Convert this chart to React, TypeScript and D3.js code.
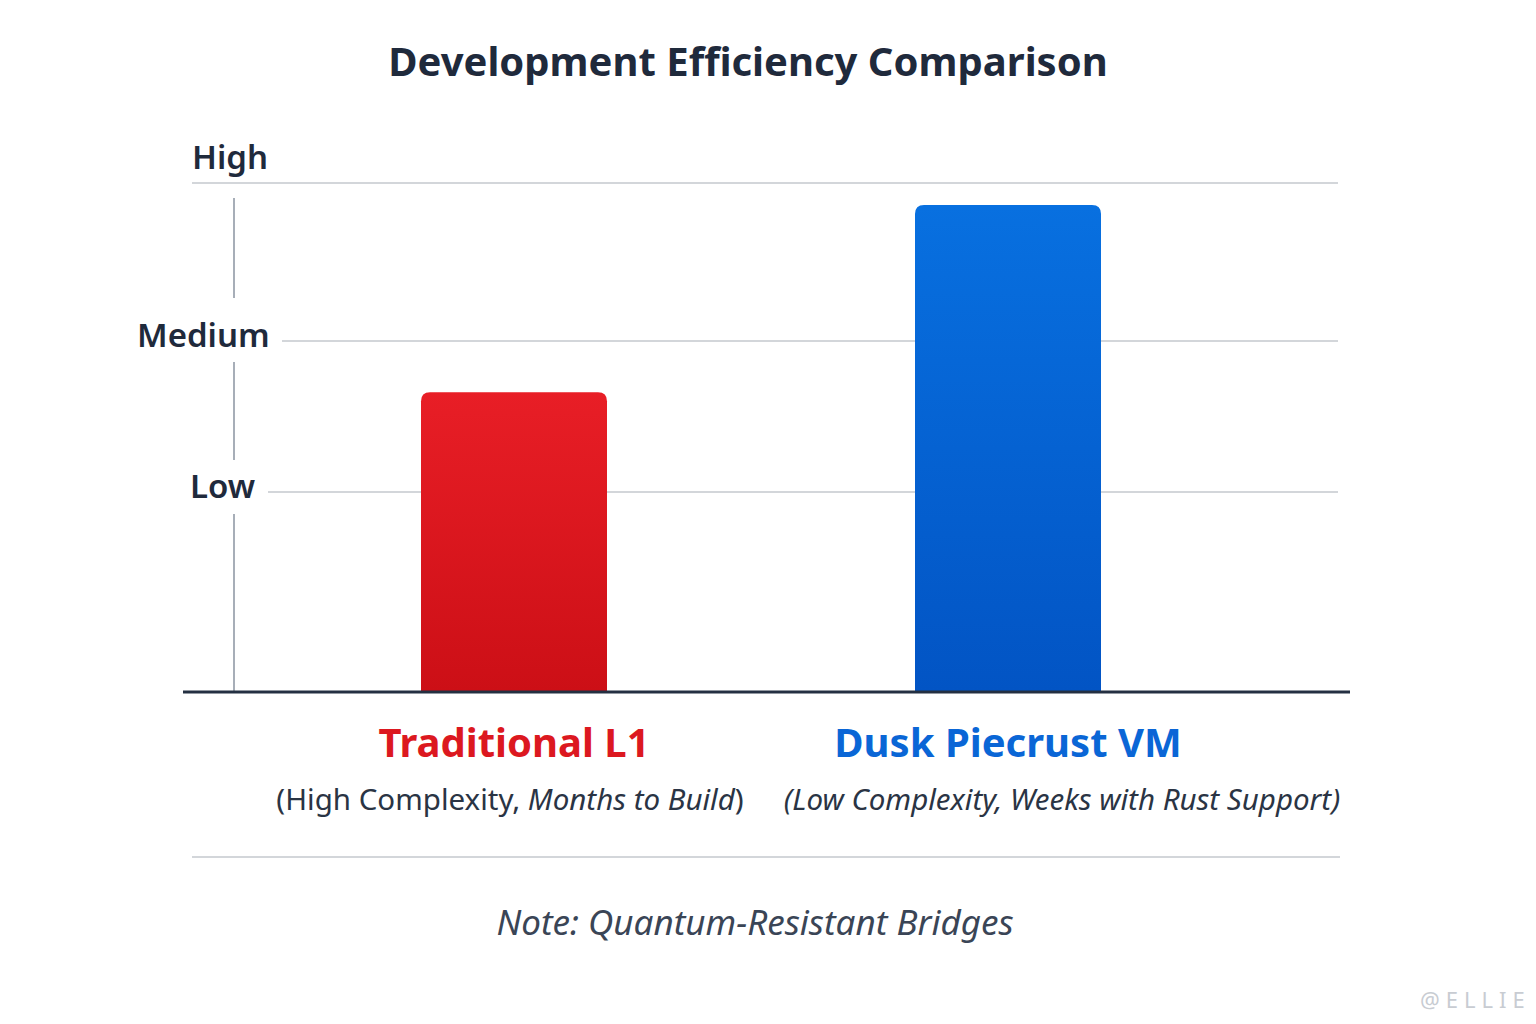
import React from 'react';
import * as d3 from 'd3';

// levels on the y axis
const levelLabels = ['Low', 'Medium', 'High'];
const levelValues = [1, 2, 3];

// bars
const categories = ['Traditional L1', 'Dusk Piecrust VM'];
const scores = [1.66, 2.86];
const subtitles = ['(High Complexity, Months to Build)', '(Low Complexity, Weeks with Rust Support)'];

const W = 1536;
const H = 1024;
const font = '"Noto Sans", "Open Sans", sans-serif';
const ink = '#1f2a3c';

const App: React.FC = () => {
  // scale is not even between levels in the picture, so use a polylinear scale
  const y = d3.scaleLinear().domain([0, 1, 2, 3]).range([692, 492, 341, 183]);
  const x = d3.scalePoint<string>().domain(categories).range([514, 1008]);
  const barW = 186;
  const colors = [
    ['#e81e26', '#cc0f16'],
    ['#0870e0', '#0254c4'],
  ];
  const labelColors = ['#dc1820', '#0a66d6'];

  const barPath = (cx: number, v: number) => {
    const x0 = cx - barW / 2, x1 = cx + barW / 2, top = y(v), bot = y(0), r = 9;
    const p = d3.path();
    p.moveTo(x0, bot);
    p.lineTo(x0, top + r);
    p.quadraticCurveTo(x0, top, x0 + r, top);
    p.lineTo(x1 - r, top);
    p.quadraticCurveTo(x1, top, x1, top + r);
    p.lineTo(x1, bot);
    p.closePath();
    return p.toString();
  };

  const gridStart = [268, 282, 192];
  const labelX = [190, 137, 192];

  return (
    <svg width={W} height={H} style={{ position: 'absolute', left: 0, top: 0, background: '#fff' }} fontFamily={font}>
      <defs>
        {colors.map((c, i) => (
          <linearGradient key={i} id={`g${i}`} x1="0" y1="0" x2="0" y2="1">
            <stop offset="0" stopColor={c[0]} />
            <stop offset="1" stopColor={c[1]} />
          </linearGradient>
        ))}
      </defs>
      <text x={748} y={76} textAnchor="middle" fontSize={40} fontWeight={700} fill={ink}>
        Development Efficiency Comparison
      </text>

      {/* vertical axis with gaps around labels */}
      <line x1={234} x2={234} y1={198} y2={298} stroke="#8a93a0" strokeWidth={1.5} />
      <line x1={234} x2={234} y1={362} y2={460} stroke="#8a93a0" strokeWidth={1.5} />
      <line x1={234} x2={234} y1={514} y2={692} stroke="#8a93a0" strokeWidth={1.5} />

      {levelValues.map((v, i) => (
        <g key={v}>
          <line x1={gridStart[i]} x2={1338} y1={y(v)} y2={y(v)} stroke="#c4c8ce" strokeWidth={1.5} />
          <text
            x={labelX[i]}
            y={i === 2 ? y(v) - 14 : y(v) + 6}
            fontSize={33}
            fontWeight={600}
            fill={ink}
          >
            {levelLabels[i]}
          </text>
        </g>
      ))}

      {categories.map((c, i) => (
        <path key={c} d={barPath(x(c)!, scores[i])} fill={`url(#g${i})`} />
      ))}
      <line x1={183} x2={1350} y1={y(0)} y2={y(0)} stroke="#243042" strokeWidth={3} />

      <text x={x(categories[0])!} y={757} textAnchor="middle" fontSize={40} fontWeight={700} fill={labelColors[0]}>
        {categories[0]}
      </text>
      <text x={x(categories[1])!} y={757} textAnchor="middle" fontSize={40} fontWeight={700} fill={labelColors[1]}>
        {categories[1]}
      </text>
      <text x={510} y={810} textAnchor="middle" fontSize={29.5} fill="#2a3444">
        (High Complexity, <tspan fontStyle="italic">Months to Build</tspan>)
      </text>
      <text x={1062} y={810} textAnchor="middle" fontSize={29.5} fontStyle="italic" fill="#2a3444">
        {subtitles[1]}
      </text>

      <line x1={192} x2={1340} y1={857} y2={857} stroke="#c4c8ce" strokeWidth={1.5} />
      <text x={755} y={935} textAnchor="middle" fontSize={35} fontStyle="italic" fill="#3a4556">
        Note: Quantum-Resistant Bridges
      </text>
      <text x={1420} y={1008} fontSize={22} fill="#c8ccd2" letterSpacing={6}>
        @ELLIE
      </text>
    </svg>
  );
};

export default App;
